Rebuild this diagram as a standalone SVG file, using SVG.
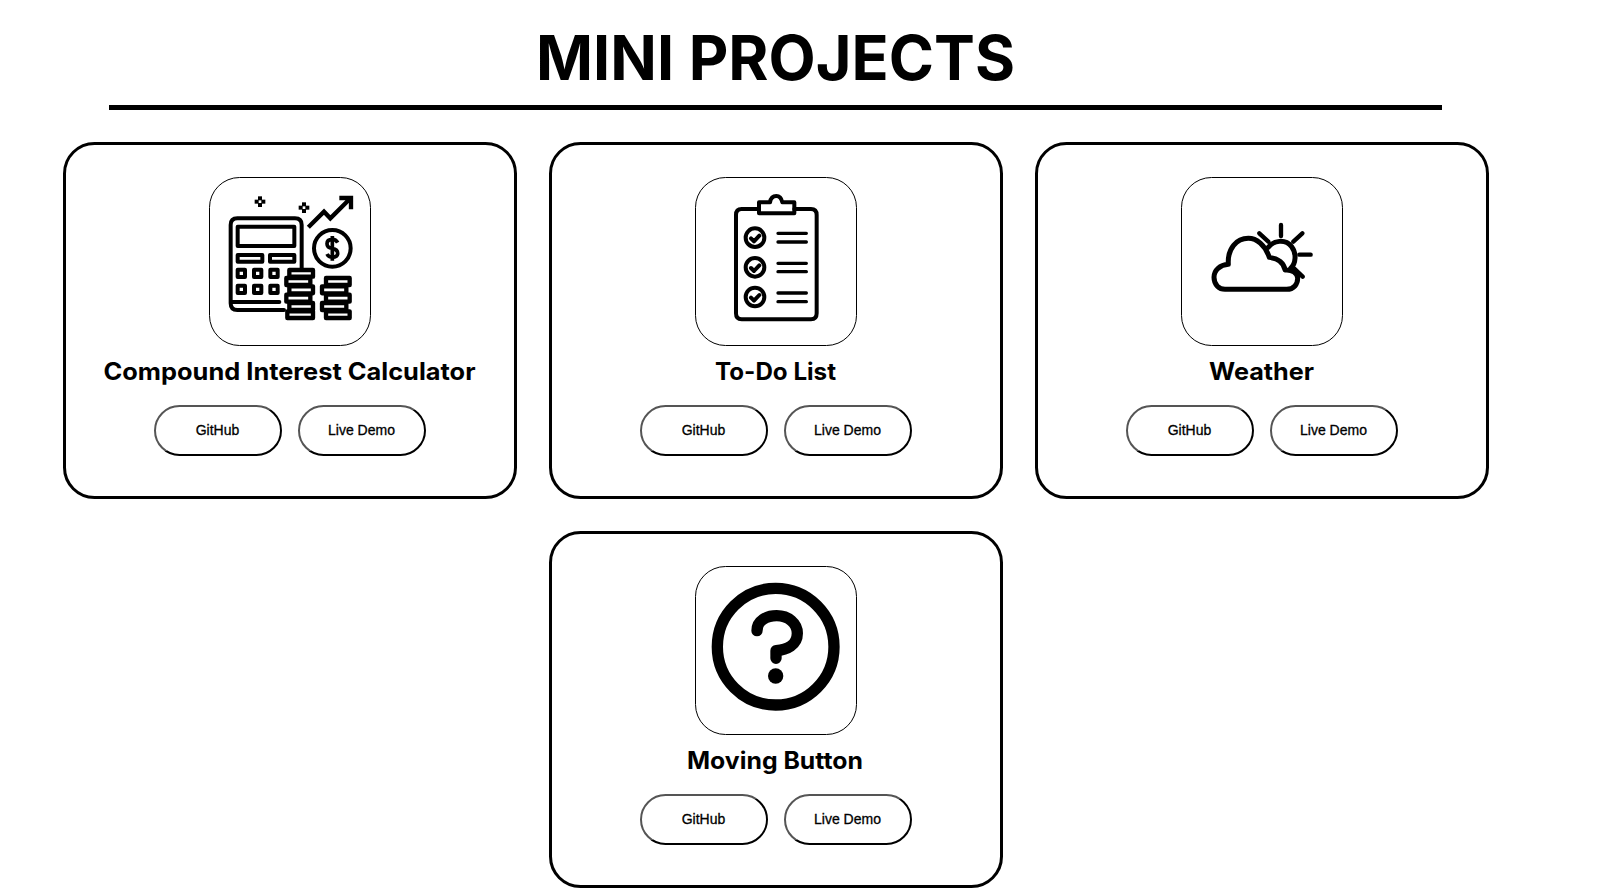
<svg xmlns="http://www.w3.org/2000/svg" width="1611" height="894" viewBox="0 0 1611 894">
<style>
.card{fill:#fff;stroke:#000;stroke-width:3}
.box{fill:#fff;stroke:#000;stroke-width:1}
.btn{fill:#fff;stroke:url(#outset);stroke-width:2}
.h{font-family:Inter,"Liberation Sans",sans-serif;font-weight:700;font-size:24px;fill:#000}
.t{font-family:"Liberation Sans",Arial,sans-serif;font-size:14px;fill:#000;stroke:#000;stroke-width:.3;text-anchor:middle}
.i{fill:none;stroke:#000;stroke-linejoin:round;stroke-linecap:round}
</style>
<defs>
<linearGradient id="outset" x1="0" y1="0" x2="1" y2="1"><stop offset="0.5" stop-color="#555"/><stop offset="0.5" stop-color="#000"/></linearGradient>
<g id="buttons">
<rect class="btn" x="155" y="406" width="126" height="49" rx="24.5"/>
<rect class="btn" x="299" y="406" width="126" height="49" rx="24.5"/>
</g>
<g id="cardbase">
<rect class="card" x="64.500" y="143.500" width="451" height="354" rx="30"/>
<rect class="box" x="209.500" y="177.500" width="161" height="168" rx="30"/>
<use href="#buttons"/>
<text class="t" x="217.500" y="435">GitHub</text>
<text class="t" x="361.500" y="435">Live Demo</text>
</g>
</defs>
<rect width="1611" height="894" fill="#fff"/>
<g id="header">
<text x="536" y="80" font-family="Inter,'Liberation Sans',sans-serif" font-weight="700" font-size="62" textLength="479" lengthAdjust="spacingAndGlyphs">MINI PROJECTS</text>
<rect x="109" y="105" width="1333" height="5" fill="#000"/>
</g>
<g id="card-compound">
<use href="#cardbase"/>
<text class="h" x="103.500" y="380" textLength="372" lengthAdjust="spacingAndGlyphs">Compound Interest Calculator</text>
<g class="i" stroke-width="12" transform="translate(200 170) scale(.33333)">
<path d="M305 296V165Q305 145 285 145H112Q92 145 92 165V400Q92 420 112 420H252M92 396H238"/>
<rect x="113" y="170" width="170" height="58"/>
<rect x="113" y="255" width="74" height="20"/>
<rect x="210" y="255" width="73" height="20"/>
<rect x="113" y="299" width="22" height="22"/><rect x="162" y="299" width="22" height="22"/><rect x="211" y="299" width="22" height="22"/>
<rect x="113" y="347" width="22" height="22"/><rect x="162" y="347" width="22" height="22"/><rect x="211" y="347" width="22" height="22"/>
<g fill="#fff" stroke-width="13">
<rect x="268" y="300" width="71" height="20"/><rect x="259" y="324" width="72" height="21"/><rect x="268" y="349" width="71" height="21"/><rect x="259" y="374" width="72" height="21"/><rect x="268" y="399" width="71" height="21"/><rect x="262" y="424" width="77" height="20"/>
<rect x="378" y="324" width="71" height="21"/><rect x="366" y="349" width="73" height="21"/><rect x="378" y="374" width="71" height="21"/><rect x="366" y="399" width="73" height="21"/><rect x="378" y="424" width="71" height="20"/>
</g>
<circle cx="397" cy="235" r="55"/>
<path d="M413 218Q408 208 397 208Q381 208 381 221Q381 233 397 235Q413 238 413 250Q413 262 397 262Q386 262 381 252M397 198V272" stroke-width="11" stroke-linecap="butt"/>
<path d="M325 172L372 125L391 145L450 86M418 84H453V118" stroke-linecap="butt" stroke-linejoin="miter" stroke-width="13"/>
</g>
<g fill="#000" transform="translate(200 170) scale(.33333)">
<rect x="174" y="79" width="12" height="12"/><rect x="174" y="99" width="12" height="12"/><rect x="164" y="89" width="12" height="12"/><rect x="184" y="89" width="12" height="12"/>
<rect x="306" y="97" width="12" height="12"/><rect x="306" y="117" width="12" height="12"/><rect x="296" y="107" width="12" height="12"/><rect x="316" y="107" width="12" height="12"/>
</g>
</g>
<g id="card-todo">
<use href="#cardbase" x="486"/>
<text class="h" x="715" y="380" textLength="121" lengthAdjust="spacingAndGlyphs">To-Do List</text>
<g class="i" stroke-width="12" transform="translate(685 170) scale(.33333)">
<path d="M222 117H170Q153 117 153 135V430Q153 448 170 448H378Q395 448 395 430V135Q395 117 378 117H328"/>
<path d="M222 130V97H255Q258 78 274 78Q288 78 292 97H328V130Z"/>
<circle cx="210" cy="203" r="28"/><circle cx="210" cy="292" r="28"/><circle cx="210" cy="381" r="28"/>
<path d="M198 205L207 214L223 197M198 294L207 303L223 286M198 383L207 392L223 375"/>
<path d="M279 190H364M279 216H364M279 280H364M279 305H364M279 369H364M279 395H364" stroke-width="10"/>
</g>
</g>
<g id="card-weather">
<use href="#cardbase" x="972"/>
<text class="h" x="1209" y="380" textLength="105" lengthAdjust="spacingAndGlyphs">Weather</text>
<g class="i" stroke-width="15" transform="translate(1170 170) scale(.33333)">
<path d="M165 358H350C372 358 383 342 383 325C383 308 365 298 345 300C342 280 325 265 298 262C285 225 260 205 235 205C200 205 172 235 175 283C150 285 132 300 132 322C132 345 148 358 165 358Z"/>
<path d="M295 232C310 212 345 205 365 230C380 250 378 280 362 295"/>
<path d="M333 165V198M370 215L397 190M388 254H422M372 295L398 320M268 190L295 215" stroke-width="13"/>
</g>
</g>
<g id="card-moving">
<use href="#cardbase" x="486" y="389"/>
<text class="h" x="687" y="769" textLength="176" lengthAdjust="spacingAndGlyphs">Moving Button</text>
<g class="i" transform="translate(685 560) scale(.33333)">
<circle cx="272" cy="260" r="175" stroke-width="34"/>
<path d="M216 212C216 182 245 167 275 167C310 167 337 190 337 220C337 255 305 270 273 272V295" stroke-width="34"/>
<circle cx="272" cy="348" r="23" fill="#000" stroke="none"/>
</g>
</g>
</svg>
